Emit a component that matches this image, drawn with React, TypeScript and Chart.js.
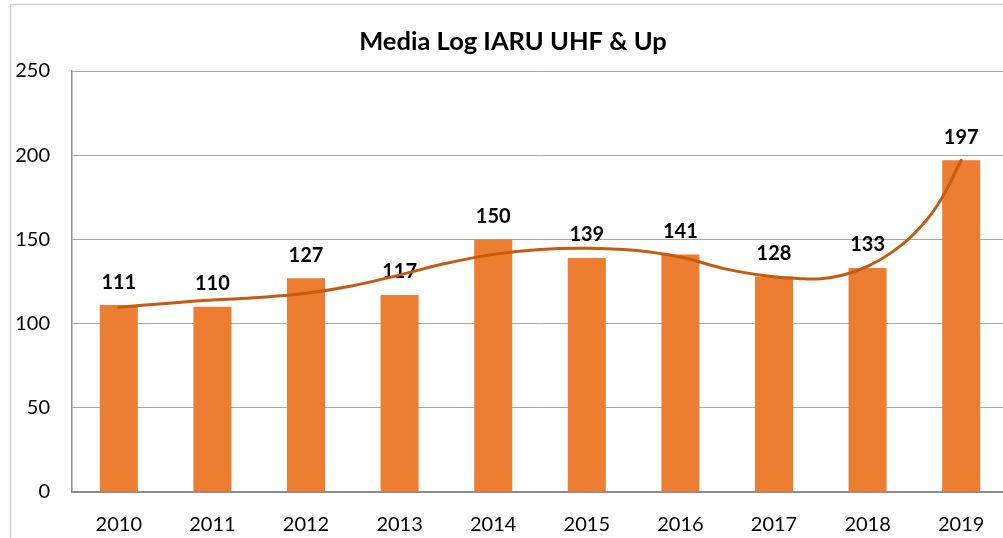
import React, { useEffect, useRef } from "react";
import { Chart, registerables } from "chart.js";

Chart.register(...registerables);

const titleText = "Media Log IARU UHF & Up";
const categories = ["2010", "2011", "2012", "2013", "2014", "2015", "2016", "2017", "2018", "2019"];
const counts = [111, 110, 127, 117, 150, 139, 141, 128, 133, 197];
// trendline: positions in category index units and values
const trendPos = [0, 0.5, 1, 1.5, 2, 2.5, 3, 3.5, 4, 4.5, 5, 5.5, 6, 6.5, 7, 7.25, 7.5, 7.75, 8, 8.25, 8.5, 8.75, 9];
const trendVals = [109.7, 112, 114, 115.5, 118, 122.5, 128.9, 135.8, 141.1, 144, 144.7, 143.5, 139.5, 132.2, 127.8, 126.8, 126.6, 129, 134, 142, 153.5, 170.6, 197];
const yMin = 0;
const yMax = 250;
const yStep = 50;

const FONT = "Lato, 'Open Sans', sans-serif";

const framePlugin = {
  id: "frame",
  beforeDraw(chart: any) {
    const ctx = chart.ctx;
    ctx.save();
    ctx.fillStyle = "#ffffff";
    ctx.fillRect(0, 0, chart.width, chart.height);
    ctx.strokeStyle = "#D0D0D0";
    ctx.lineWidth = 1.5;
    ctx.beginPath();
    ctx.moveTo(10.5, chart.height);
    ctx.lineTo(10.5, 4.5);
    ctx.lineTo(chart.width, 4.5);
    ctx.stroke();
    ctx.restore();
  },
  afterDraw(chart: any) {
    const ctx = chart.ctx;
    ctx.save();
    ctx.fillStyle = "#000000";
    ctx.font = "bold 25.5px " + FONT;
    ctx.textAlign = "center";
    ctx.textBaseline = "middle";
    ctx.fillText(titleText, 513, 42);
    ctx.restore();
  },
};

const labelPlugin = {
  id: "barLabels",
  beforeDatasetsDraw(chart: any) {
    const ctx = chart.ctx;
    const meta = chart.getDatasetMeta(1);
    ctx.save();
    ctx.fillStyle = "#000000";
    ctx.font = "bold 20px " + FONT;
    ctx.textAlign = "center";
    ctx.textBaseline = "middle";
    meta.data.forEach((bar: any, i: number) => {
      ctx.fillText(String(counts[i]), bar.x, bar.y - 23);
    });
    ctx.restore();
  },
};

export default function App() {
  const ref = useRef<HTMLCanvasElement>(null);
  useEffect(() => {
    if (!ref.current) return;
    const chart = new Chart(ref.current, {
      type: "bar",
      data: {
        labels: categories,
        datasets: [
          {
            type: "line",
            data: trendPos.map((p, i) => ({ x: p, y: trendVals[i] })),
            xAxisID: "x2",
            yAxisID: "y",
            borderColor: "#C55A11",
            borderWidth: 3,
            borderCapStyle: "round",
            pointRadius: 0,
            tension: 0.4,
            order: 1,
          } as any,
          {
            type: "bar",
            data: counts,
            xAxisID: "x",
            yAxisID: "y",
            backgroundColor: "#ED7D31",
            barPercentage: 0.406,
            categoryPercentage: 1,
            grouped: false,
            order: 2,
          } as any,
        ],
      },
      options: {
        responsive: false,
        animation: false,
        layout: { padding: { top: 71, right: 2, left: 0, bottom: 0 } },
        plugins: { legend: { display: false }, tooltip: { enabled: false }, title: { display: false } },
        scales: {
          x: {
            type: "category",
            grid: { display: false, drawTicks: false },
            border: { display: true, color: "#8C8C8C", width: 2 },
            ticks: { color: "#000000", font: { family: FONT, size: 20 }, padding: 21 },
            afterFit: (s: any) => { s.height = 46; },
          },
          x2: { type: "linear", display: false, offset: false, min: -0.5, max: 9.5, grid: { offset: false } },
          y: {
            min: yMin,
            max: yMax,
            grid: { color: "#A6A6A6", lineWidth: 1, drawTicks: false },
            border: { display: true, color: "#8C8C8C", width: 1.5 },
            ticks: { stepSize: yStep, color: "#000000", font: { family: FONT, size: 20 }, padding: 22 },
            afterFit: (s: any) => { s.width = 72; },
          },
        },
      } as any,
      plugins: [framePlugin, labelPlugin],
    });
    return () => chart.destroy();
  }, []);
  return (
    <div style={{ position: "absolute", left: 0, top: 0, width: 1003, height: 538, overflow: "hidden", background: "#fff" }}>
      <canvas ref={ref} width={1010} height={538} style={{ display: "block" }} />
    </div>
  );
}
